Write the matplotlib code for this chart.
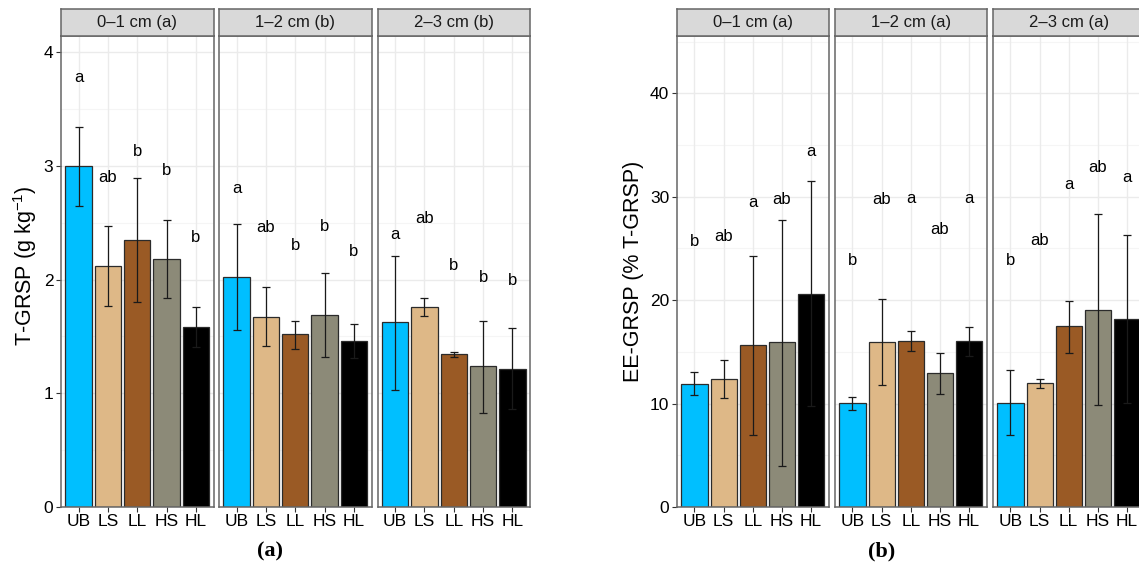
import matplotlib
matplotlib.use("Agg")
import matplotlib.pyplot as plt
import numpy as np

plt.rcParams['font.family'] = ['Liberation Sans', 'DejaVu Sans']
plt.rcParams['mathtext.default'] = 'regular'

# ---------------- data ----------------
treatments = ["UB", "LS", "LL", "HS", "HL"]
depths_a = ["0\u20131 cm (a)", "1\u20132 cm (b)", "2\u20133 cm (b)"]
depths_b = ["0\u20131 cm (a)", "1\u20132 cm (a)", "2\u20133 cm (a)"]

# (a) T-GRSP, g/kg
tgrsp_mean = [[3.00, 2.12, 2.35, 2.18, 1.585],
              [2.025, 1.675, 1.52, 1.69, 1.46],
              [1.626, 1.757, 1.345, 1.236, 1.214]]
tgrsp_lo = [[2.65, 1.77, 1.80, 1.84, 1.41],
            [1.56, 1.415, 1.39, 1.32, 1.31],
            [1.03, 1.68, 1.32, 0.83, 0.86]]
tgrsp_hi = [[3.345, 2.47, 2.89, 2.52, 1.76],
            [2.49, 1.935, 1.633, 2.055, 1.61],
            [2.21, 1.834, 1.367, 1.633, 1.57]]
tgrsp_letters = [["a", "ab", "b", "b", "b"],
                 ["a", "ab", "b", "b", "b"],
                 ["a", "ab", "b", "b", "b"]]
tgrsp_letter_y = [[3.78, 2.90, 3.125, 2.96, 2.37],
                  [2.80, 2.46, 2.30, 2.47, 2.245],
                  [2.40, 2.54, 2.125, 2.02, 1.99]]

# (b) EE-GRSP, % of T-GRSP
ee_mean = [[11.93, 12.38, 15.64, 15.93, 20.63],
           [10.03, 15.93, 16.10, 12.94, 16.03],
           [10.09, 11.99, 17.48, 19.09, 18.18]]
ee_lo = [[10.80, 10.57, 6.96, 3.97, 9.73],
         [9.35, 11.77, 15.12, 10.90, 14.65],
         [6.93, 11.53, 14.90, 9.90, 10.10]]
ee_hi = [[13.09, 14.19, 24.30, 27.76, 31.53],
         [10.67, 20.09, 17.05, 14.90, 17.40],
         [13.26, 12.41, 19.97, 28.30, 26.27]]
ee_letters = [["b", "ab", "a", "ab", "a"],
              ["b", "ab", "a", "ab", "a"],
              ["b", "ab", "a", "ab", "a"]]
ee_letter_y = [[25.7, 26.2, 29.47, 29.7, 34.4],
               [23.8, 29.7, 29.8, 26.8, 29.8],
               [23.84, 25.8, 31.19, 32.88, 31.9]]

bar_colors = ["#00BFFF", "#DEB887", "#9A5A25", "#8C8A78", "#000000"]

# ---------------- layout ----------------
W, H = 1139, 570
fig = plt.figure(figsize=(W / 100, H / 100), dpi=100)

BORDER = "#666666"
GRID = "#ebebeb"
GRID_MINOR = "#f5f5f5"
STRIP = "#d9d9d9"


def px_axes(x0, y_top, w, h):
    return fig.add_axes([x0 / W, (H - y_top - h) / H, w / W, h / H])


def draw_group(x0s, pw, means, los, his, letters, letter_y, strips, ymax,
               yticks, yminor):
    x = np.arange(len(treatments))
    for k, x0 in enumerate(x0s):
        ax = px_axes(x0, 36, pw, 471)
        ax.set_xlim(-0.6, len(treatments) - 0.4)
        ax.set_ylim(0, ymax)
        for yy in yminor:
            ax.axhline(yy, color=GRID_MINOR, lw=0.8, zorder=0)
        for yy in yticks:
            ax.axhline(yy, color=GRID, lw=1.0, zorder=0)
        for xx in x:
            ax.axvline(xx, color=GRID, lw=1.0, zorder=0)
        m = np.array(means[k])
        lo = np.array(los[k])
        hi = np.array(his[k])
        ax.bar(x, m, width=0.9, color=bar_colors, edgecolor="#2b2b2b",
               linewidth=0.9, zorder=2)
        ax.errorbar(x, m, yerr=[m - lo, hi - m], fmt="none", ecolor="#1a1a1a",
                    elinewidth=0.9, capsize=2.6, capthick=0.9, zorder=3)
        for xi, lab, ly in zip(x, letters[k], letter_y[k]):
            ax.text(xi, ly, lab, ha="center", va="center", fontsize=12,
                    color="black", zorder=4)
        ax.set_xticks(x)
        ax.set_xticklabels(treatments, fontsize=12.5, color="black")
        ax.set_yticks(yticks)
        if k == 0:
            ax.set_yticklabels([str(t) for t in yticks], fontsize=12.5,
                               color="black")
            ax.tick_params(axis="y", length=3.5, width=0.8, color="#333333",
                           pad=2)
        else:
            ax.tick_params(axis="y", left=False, labelleft=False)
        ax.tick_params(axis="x", length=3.5, width=0.8, color="#333333",
                       pad=1.5)
        for s in ax.spines.values():
            s.set_color(BORDER)
            s.set_linewidth(1.1)
        # strip
        sa = px_axes(x0, 9, pw, 27)
        sa.set_facecolor(STRIP)
        sa.set_xticks([])
        sa.set_yticks([])
        for s in sa.spines.values():
            s.set_color(BORDER)
            s.set_linewidth(1.1)
        sa.text(0.5, 0.5, strips[k], ha="center", va="center", fontsize=12,
                color="#1a1a1a", transform=sa.transAxes)


draw_group([61, 219, 377.5], 152.5, tgrsp_mean, tgrsp_lo, tgrsp_hi,
           tgrsp_letters, tgrsp_letter_y, depths_a, 4.142,
           [0, 1, 2, 3, 4], [0.5, 1.5, 2.5, 3.5])
draw_group([677, 835, 993], 151.5, ee_mean, ee_lo, ee_hi,
           ee_letters, ee_letter_y, depths_b, 45.55,
           [0, 10, 20, 30, 40], [5, 15, 25, 35, 45])

fig.text(25 / W, 1 - 266 / H, "T-GRSP (g kg$^{-1}$)", rotation=90,
         ha="center", va="center", fontsize=15.5)
fig.text(634 / W, 1 - 271 / H, "EE-GRSP (% T-GRSP)", rotation=90,
         ha="center", va="center", fontsize=15.5)

fig.text(270 / W, 1 - 551 / H, "(a)", ha="center", va="center",
         fontsize=16, fontweight="bold", family="Liberation Serif")
fig.text(882 / W, 1 - 551 / H, "(b)", ha="center", va="center",
         fontsize=16, fontweight="bold", family="Liberation Serif")

fig.savefig("out.png", dpi=100)
